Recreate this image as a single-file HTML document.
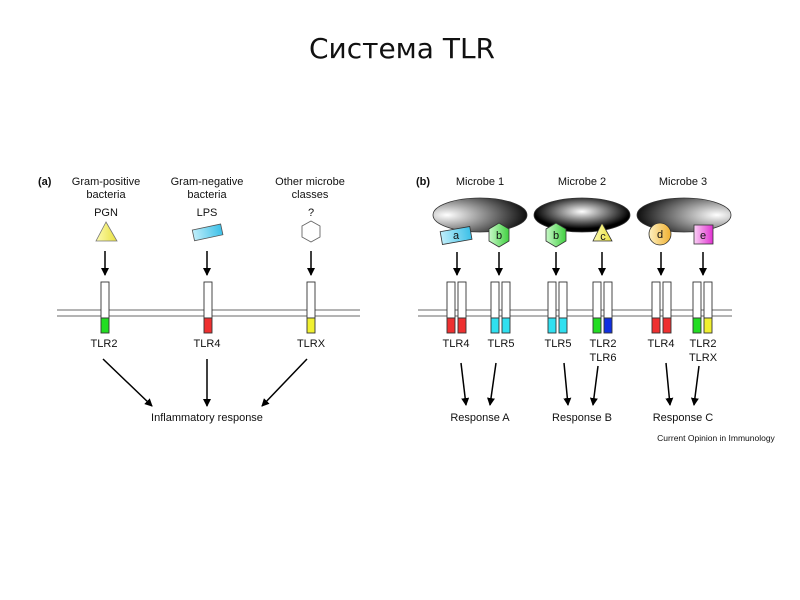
<!DOCTYPE html>
<html><head><meta charset="utf-8"><style>
html,body{margin:0;padding:0;background:#fff;}
svg{display:block;font-family:"Liberation Sans",Arial,sans-serif;}
</style></head><body>
<svg width="800" height="600" viewBox="0 0 800 600" xmlns="http://www.w3.org/2000/svg">
<defs>
<marker id="ah" markerWidth="8" markerHeight="8" refX="7" refY="4" orient="auto" markerUnits="userSpaceOnUse"><path d="M0,0 L8,4 L0,8 z" fill="#000"/></marker>
<radialGradient id="m1" cx="0.15" cy="0.5" r="0.9"><stop offset="0" stop-color="#fff"/><stop offset="1" stop-color="#000"/></radialGradient>
<radialGradient id="m2" cx="0.5" cy="0.4" r="0.5"><stop offset="0" stop-color="#fff"/><stop offset="1" stop-color="#000"/></radialGradient>
<radialGradient id="m3" cx="0.85" cy="0.5" r="0.9"><stop offset="0" stop-color="#fff"/><stop offset="1" stop-color="#000"/></radialGradient>
<linearGradient id="cy" x1="0" x2="1"><stop offset="0" stop-color="#bfeefa"/><stop offset="1" stop-color="#3cc0e8"/></linearGradient>
<linearGradient id="ye" x1="0" x2="1"><stop offset="0" stop-color="#fdfbb0"/><stop offset="1" stop-color="#e8e040"/></linearGradient>
<linearGradient id="gr" x1="0" x2="1"><stop offset="0" stop-color="#c8f8c8"/><stop offset="1" stop-color="#40d040"/></linearGradient>
<linearGradient id="or" x1="0" x2="1"><stop offset="0" stop-color="#fdf0c0"/><stop offset="1" stop-color="#f0b030"/></linearGradient>
<linearGradient id="pk" x1="0" x2="1"><stop offset="0" stop-color="#fad0f5"/><stop offset="1" stop-color="#e030d0"/></linearGradient>
</defs>
<text x="402" y="58" font-size="28" text-anchor="middle" fill="#111" font-family="DejaVu Sans, sans-serif">Система TLR</text>

<g font-size="11" text-anchor="middle" fill="#111">
<text x="38" y="185" font-weight="bold" text-anchor="start">(a)</text>
<text x="106" y="185">Gram-positive</text><text x="106" y="198">bacteria</text>
<text x="207" y="185">Gram-negative</text><text x="207" y="198">bacteria</text>
<text x="310" y="185">Other microbe</text><text x="310" y="198">classes</text>
<text x="106" y="216">PGN</text><text x="207" y="216">LPS</text><text x="311" y="216">?</text>
<text x="104" y="347">TLR2</text><text x="207" y="347">TLR4</text><text x="311" y="347">TLRX</text>
<text x="207" y="421">Inflammatory response</text>

<text x="416" y="185" font-weight="bold" text-anchor="start">(b)</text>
<text x="480" y="185">Microbe 1</text><text x="582" y="185">Microbe 2</text><text x="683" y="185">Microbe 3</text>
<text x="456" y="347">TLR4</text><text x="501" y="347">TLR5</text><text x="558" y="347">TLR5</text>
<text x="603" y="347">TLR2</text><text x="603" y="361">TLR6</text>
<text x="661" y="347">TLR4</text><text x="703" y="347">TLR2</text><text x="703" y="361">TLRX</text>
<text x="480" y="421">Response A</text><text x="582" y="421">Response B</text><text x="683" y="421">Response C</text>
<text x="716" y="441" font-size="8.5">Current Opinion in Immunology</text>
</g>

<polygon points="106,222 96,241 117,241" fill="url(#ye)" stroke="#777" stroke-width="0.8"/>
<rect x="193" y="227" width="29" height="11" fill="url(#cy)" stroke="#555" stroke-width="0.8" transform="rotate(-12 207 232)"/>
<polygon points="311,221 320,226 320,237 311,242 302,237 302,226" fill="#fff" stroke="#666" stroke-width="0.9"/>

<g stroke="#888" stroke-width="1.2">
<line x1="57" y1="310" x2="360" y2="310"/><line x1="57" y1="316" x2="360" y2="316"/>
<line x1="418" y1="310" x2="732" y2="310"/><line x1="418" y1="316" x2="732" y2="316"/>
</g>

<g stroke="#333" stroke-width="0.9">
<rect x="101" y="282" width="8" height="36" fill="#fff"/><rect x="101" y="318" width="8" height="15" fill="#22dd22"/>
<rect x="204" y="282" width="8" height="36" fill="#fff"/><rect x="204" y="318" width="8" height="15" fill="#ee3030"/>
<rect x="307" y="282" width="8" height="36" fill="#fff"/><rect x="307" y="318" width="8" height="15" fill="#f0f030"/>
</g>
<g stroke="#333" stroke-width="0.9" fill="#fff">
<rect x="447" y="282" width="8" height="36"/><rect x="458" y="282" width="8" height="36"/>
<rect x="491" y="282" width="8" height="36"/><rect x="502" y="282" width="8" height="36"/>
<rect x="548" y="282" width="8" height="36"/><rect x="559" y="282" width="8" height="36"/>
<rect x="593" y="282" width="8" height="36"/><rect x="604" y="282" width="8" height="36"/>
<rect x="652" y="282" width="8" height="36"/><rect x="663" y="282" width="8" height="36"/>
<rect x="693" y="282" width="8" height="36"/><rect x="704" y="282" width="8" height="36"/>
</g>
<g stroke="#333" stroke-width="0.9">
<rect x="447" y="318" width="8" height="15" fill="#ee3030"/><rect x="458" y="318" width="8" height="15" fill="#ee3030"/>
<rect x="491" y="318" width="8" height="15" fill="#30e0f0"/><rect x="502" y="318" width="8" height="15" fill="#30e0f0"/>
<rect x="548" y="318" width="8" height="15" fill="#30e0f0"/><rect x="559" y="318" width="8" height="15" fill="#30e0f0"/>
<rect x="593" y="318" width="8" height="15" fill="#22dd22"/><rect x="604" y="318" width="8" height="15" fill="#1030e0"/>
<rect x="652" y="318" width="8" height="15" fill="#ee3030"/><rect x="663" y="318" width="8" height="15" fill="#ee3030"/>
<rect x="693" y="318" width="8" height="15" fill="#22dd22"/><rect x="704" y="318" width="8" height="15" fill="#f0f030"/>
</g>

<ellipse cx="480" cy="215" rx="47" ry="17" fill="url(#m1)" stroke="#333" stroke-width="0.8"/>
<ellipse cx="582" cy="215" rx="48" ry="17" fill="url(#m2)" stroke="#333" stroke-width="0.8"/>
<ellipse cx="684" cy="215" rx="47" ry="17" fill="url(#m3)" stroke="#333" stroke-width="0.8"/>
<rect x="441" y="229" width="30" height="13" fill="url(#cy)" stroke="#333" stroke-width="0.8" transform="rotate(-10 456 235)"/>
<polygon points="499,223 509,229 509,241 499,247 489,241 489,229" fill="url(#gr)" stroke="#333" stroke-width="0.8"/>
<polygon points="556,223 566,229 566,241 556,247 546,241 546,229" fill="url(#gr)" stroke="#333" stroke-width="0.8"/>
<polygon points="602,223 593,241 612,241" fill="url(#ye)" stroke="#333" stroke-width="0.8"/>
<circle cx="660" cy="234" r="11" fill="url(#or)" stroke="#333" stroke-width="0.8"/>
<rect x="694" y="225" width="19" height="19" fill="url(#pk)" stroke="#333" stroke-width="0.8"/>
<g font-size="11" text-anchor="middle" fill="#111">
<text x="456" y="239">a</text><text x="499" y="239">b</text><text x="556" y="239">b</text>
<text x="603" y="240">c</text><text x="660" y="238">d</text><text x="703" y="239">e</text>
</g>

<g stroke="#000" stroke-width="1.5" marker-end="url(#ah)">
<line x1="105" y1="251" x2="105" y2="275"/><line x1="207" y1="251" x2="207" y2="275"/><line x1="311" y1="251" x2="311" y2="275"/>
<line x1="103" y1="359" x2="152" y2="406"/><line x1="207" y1="359" x2="207" y2="406"/><line x1="307" y1="359" x2="262" y2="406"/>
<line x1="457" y1="252" x2="457" y2="275"/><line x1="499" y1="252" x2="499" y2="275"/>
<line x1="556" y1="252" x2="556" y2="275"/><line x1="602" y1="252" x2="602" y2="275"/>
<line x1="661" y1="252" x2="661" y2="275"/><line x1="703" y1="252" x2="703" y2="275"/>
<line x1="461" y1="363" x2="466" y2="405"/><line x1="496" y1="363" x2="490" y2="405"/>
<line x1="564" y1="363" x2="568" y2="405"/><line x1="598" y1="366" x2="593" y2="405"/>
<line x1="666" y1="363" x2="670" y2="405"/><line x1="699" y1="366" x2="694" y2="405"/>
</g>
</svg>
</body></html>
